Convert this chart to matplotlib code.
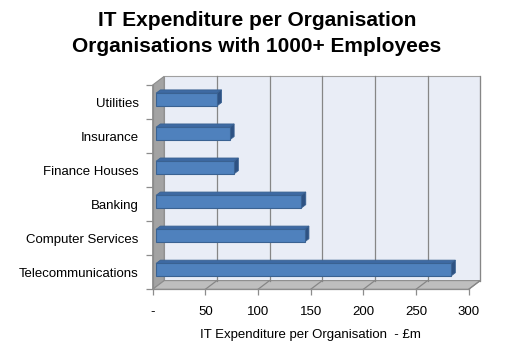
import matplotlib
matplotlib.use("Agg")
import matplotlib.pyplot as plt
from matplotlib.patches import Polygon
from matplotlib.ticker import FixedLocator

plt.rcParams['font.family'] = ['Liberation Sans', 'DejaVu Sans']

categories = ["Telecommunications", "Computer Services", "Banking",
              "Finance Houses", "Insurance", "Utilities"]
values = [280, 141, 138, 74, 70, 58]
xticks = [0, 50, 100, 150, 200, 250, 300]
xticklabels = ["-", "50", "100", "150", "200", "250", "300"]

W, H = 514, 359
fig = plt.figure(figsize=(W / 100, H / 100), dpi=100)
fig.patch.set_facecolor('white')

# front plane of the 3D box
left_px, right_px, top_px, bot_px = 152.7, 468.7, 85.0, 289.3
ax = fig.add_axes([left_px / W, 1 - bot_px / H, (right_px - left_px) / W, (bot_px - top_px) / H])
ax.set_xlim(0, 300)
ax.set_ylim(-0.5, len(categories) - 0.5)
ax.patch.set_visible(False)
for s in ax.spines.values():
    s.set_visible(False)

# depth offset in pixels converted to data units
DXpx, DYpx = 11.5, 8.7
pxx = (right_px - left_px) / 300.0
pxy = (bot_px - top_px) / len(categories)
DX, DY = DXpx / pxx, DYpx / pxy

def sh(x, y, f):
    return (x + f * DX, y + f * DY)

y0, y1 = -0.5, len(categories) - 0.5
xmax = 300
grid_c = '#868686'

# back wall
ax.add_patch(Polygon([sh(0, y0, 1), sh(xmax, y0, 1), sh(xmax, y1, 1), sh(0, y1, 1)],
                     closed=True, facecolor='#E9EDF6', edgecolor='#A0A0A0', lw=0.8, zorder=1, clip_on=False))
# left wall
ax.add_patch(Polygon([(0, y0), (0, y1), sh(0, y1, 1), sh(0, y0, 1)],
                     closed=True, facecolor='#A3A3A3', edgecolor='#8C8C8C', lw=0.8, zorder=1.5, clip_on=False))
# floor
ax.add_patch(Polygon([(0, y0), (xmax, y0), sh(xmax, y0, 1), sh(0, y0, 1)],
                     closed=True, facecolor='#BEBEBE', edgecolor='#8C8C8C', lw=0.8, zorder=1.5, clip_on=False))

# grid lines on back wall and floor
for xv in xticks[1:]:
    bx0 = sh(xv, y0, 1)
    bx1 = sh(xv, y1, 1)
    ax.plot([bx0[0], bx1[0]], [bx0[1], bx1[1]], color=grid_c, lw=0.9, zorder=2, clip_on=False)
    ax.plot([xv, bx0[0]], [y0, bx0[1]], color=grid_c, lw=0.9, zorder=2, clip_on=False)

# bars
f0, f1 = 0.29, 0.67
bh = 0.37
front_c, top_c, side_c, edge_c = '#4F81BD', '#3E6AA3', '#2E5283', '#3A6292'
for i, v in enumerate(values):
    yb, yt = i - bh / 2, i + bh / 2
    ax.add_patch(Polygon([sh(0, yt, f0), sh(v, yt, f0), sh(v, yt, f1), sh(0, yt, f1)],
                         closed=True, facecolor=top_c, edgecolor=edge_c, lw=0.6, zorder=3, clip_on=False))
    ax.add_patch(Polygon([sh(v, yb, f0), sh(v, yt, f0), sh(v, yt, f1), sh(v, yb, f1)],
                         closed=True, facecolor=side_c, edgecolor=edge_c, lw=0.6, zorder=3, clip_on=False))
    ax.add_patch(Polygon([sh(0, yb, f0), sh(v, yb, f0), sh(v, yt, f0), sh(0, yt, f0)],
                         closed=True, facecolor=front_c, edgecolor=edge_c, lw=0.8, zorder=4, clip_on=False))

# front edges (axis lines)
ax.plot([0, xmax], [y0, y0], color='#8C8C8C', lw=0.9, zorder=5, clip_on=False)
ax.plot([0, 0], [y0, y1], color='#8C8C8C', lw=0.9, zorder=5, clip_on=False)

# ticks
ax.set_xticks(xticks)
ax.set_xticklabels(xticklabels)
ax.set_yticks(range(len(categories)))
ax.set_yticklabels(categories)
ax.yaxis.set_minor_locator(FixedLocator([k - 0.5 for k in range(len(categories) + 1)]))
ax.tick_params(axis='y', which='major', length=0, pad=10, labelsize=9.5)
ax.tick_params(axis='y', which='minor', length=5, color='#8C8C8C', width=0.9)
ax.tick_params(axis='x', which='major', length=4, color='#8C8C8C', width=0.9, pad=8, labelsize=9.5)
ax.set_xlabel("IT Expenditure per Organisation  - £m", fontsize=9.5, labelpad=8)

fig.text(0.5, 1 - 20 / H, "IT Expenditure per Organisation", ha='center', va='center',
         fontsize=15, fontweight='bold')
fig.text(0.5, 1 - 46 / H, "Organisations with 1000+ Employees", ha='center', va='center',
         fontsize=15, fontweight='bold')

fig.savefig("out.png", dpi=100, facecolor='white')
